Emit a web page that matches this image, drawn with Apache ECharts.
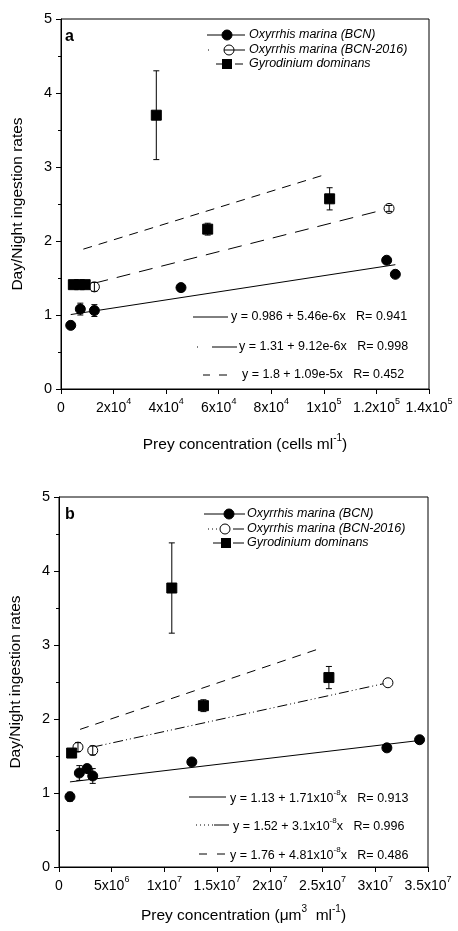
<!DOCTYPE html>
<html>
<head>
<meta charset="utf-8">
<script src="https://cdn.jsdelivr.net/npm/echarts@6/dist/echarts.min.js"></script>
<style>html,body{margin:0;padding:0;background:#fff}#c{width:458px;height:931px}</style>
</head>
<body>
<div id="c"></div>
<script>
// ---------- Panel a (cells ml-1) ----------
const aBCN = [[3700,0.86],[7350,1.08],[12700,1.06],[45650,1.37],[123900,1.74],[127200,1.55]];
const aBCNerr = [0,0.08,0.08,0,0,0];
const aBCN16 = [[12700,1.38],[124800,2.44]];
const aBCN16err = [0.06,0.04];
const aGyro = [[4700,1.41],[7000,1.41],[9200,1.41],[36260,3.70],[55800,2.16],[102200,2.57]];
const aGyroErr = [0,0,0,0.6,0.08,0.15];
const aFitBCN = [[3700,1.006],[127200,1.68]];
const aFitBCN16 = [[12700,1.43],[124800,2.44]];
const aFitGyro = [[8500,1.89],[99800,2.89]];
const aTicks = [['0',''],['2x10','4'],['4x10','4'],['6x10','4'],['8x10','4'],['1x10','5'],['1.2x10','5'],['1.4x10','5']];
const aEq = ['y = 0.986 + 5.46e-6x   R= 0.941','y = 1.31 + 9.12e-6x   R= 0.998','y = 1.8 + 1.09e-5x   R= 0.452'];

// ---------- Panel b (um3 ml-1) ----------
const bBCN = [[1.04e6,0.95],[1.93e6,1.27],[2.66e6,1.33],[3.2e6,1.23],[1.26e7,1.42],[3.11e7,1.61],[3.42e7,1.72]];
const bBCNerr = [0.06,0.1,0.05,0.1,0,0,0];
const bBCN16 = [[1.8e6,1.62],[3.2e6,1.575],[3.12e7,2.49]];
const bBCN16err = [0.06,0.06,0];
const bGyro = [[1.2e6,1.54],[1.07e7,3.77],[1.37e7,2.18],[2.56e7,2.56]];
const bGyroErr = [0,0.61,0.08,0.15];
const bFitBCN = [[1.04e6,1.15],[3.42e7,1.71]];
const bFitBCN16 = [[3.2e6,1.62],[3.12e7,2.49]];
const bFitGyro = [[2.0e6,1.86],[2.49e7,2.96]];
const bTicks = [['0',''],['5x10','6'],['1x10','7'],['1.5x10','7'],['2x10','7'],['2.5x10','7'],['3x10','7'],['3.5x10','7']];
const bEq = [['y = 1.13 + 1.71x10','-8','x   R= 0.913'],['y = 1.52 + 3.1x10','-8','x   R= 0.996'],['y = 1.76 + 4.81x10','-8','x   R= 0.486']];

const legendNames = ['Oxyrrhis marina (BCN)','Oxyrrhis marina (BCN-2016)','Gyrodinium dominans'];
const FONT = 'Liberation Sans, Arial, sans-serif';

const chart = echarts.init(document.getElementById('c'), null, {renderer:'canvas'});

const rich = {
  n:{fontSize:14, fontFamily:FONT, color:'#000', lineHeight:18, verticalAlign:'bottom'},
  s:{fontSize:9, fontFamily:FONT, color:'#000', lineHeight:10, verticalAlign:'top'}
};
const richT = {
  n:{fontSize:15.5, fontFamily:FONT, color:'#000', lineHeight:20, verticalAlign:'bottom'},
  s:{fontSize:10, fontFamily:FONT, color:'#000', lineHeight:10, verticalAlign:'top'}
};

function xAxisDef(gi, max, interval, ticks, nameStr, gap){
  return {
    gridIndex:gi, type:'value', min:0, max:max, interval:interval,
    axisLine:{show:true, lineStyle:{color:'#000', width:1}},
    axisTick:{show:true, inside:false, length:5, lineStyle:{color:'#000'}},
    splitLine:{show:false},
    axisLabel:{margin:8, hideOverlap:false, showMinLabel:true, showMaxLabel:true,
      formatter:function(v){const t=ticks[Math.round(v/interval)]; if(!t) return ''; return t[1]?('{n|'+t[0]+'}{s|'+t[1]+'}'):('{n|'+t[0]+'}');},
      rich:rich},
    name:nameStr, nameLocation:'middle', nameGap:gap,
    nameTextStyle:{rich:richT}
  };
}
function yAxisDef(gi){
  return {
    gridIndex:gi, type:'value', min:0, max:5, interval:1,
    axisLine:{show:true, lineStyle:{color:'#000', width:1}},
    axisTick:{show:true, inside:false, length:5, lineStyle:{color:'#000'}},
    minorTick:{show:true, splitNumber:2, length:3, lineStyle:{color:'#000'}},
    splitLine:{show:false}, minorSplitLine:{show:false},
    axisLabel:{margin:9, fontSize:14.5, fontFamily:FONT, color:'#000'},
    name:'Day/Night ingestion rates', nameLocation:'middle', nameGap:35, nameRotate:90,
    nameTextStyle:{fontSize:15.5, fontFamily:FONT, color:'#000'}
  };
}

function scatter(gi, data, sym, filled){
  return {type:'scatter', xAxisIndex:gi, yAxisIndex:gi, data:data, symbol:sym, symbolSize:10,
    itemStyle:{color: filled?'#000':'#fff', borderColor:'#000', borderWidth:1, opacity:1}, z:3, silent:true};
}
function fit(gi, data, type){
  return {type:'line', xAxisIndex:gi, yAxisIndex:gi, data:data, symbol:'none', silent:true,
    lineStyle:{color:'#000', width:1, type:type}, z:2};
}
function errBars(gi, pts, errs){
  const d = pts.map((p,i)=>[p[0],p[1],errs[i]]).filter(r=>r[2]>0);
  return {type:'custom', xAxisIndex:gi, yAxisIndex:gi, data:d, silent:true, z:4,
    renderItem:function(params, api){
      const x=api.value(0), y=api.value(1), e=api.value(2);
      const top=api.coord([x,y+e]), bot=api.coord([x,y-e]);
      const cw=3;
      return {type:'group', children:[
        {type:'line', shape:{x1:top[0],y1:top[1],x2:bot[0],y2:bot[1]}, style:{stroke:'#000',lineWidth:1}},
        {type:'line', shape:{x1:top[0]-cw,y1:top[1],x2:top[0]+cw,y2:top[1]}, style:{stroke:'#000',lineWidth:1}},
        {type:'line', shape:{x1:bot[0]-cw,y1:bot[1],x2:bot[0]+cw,y2:bot[1]}, style:{stroke:'#000',lineWidth:1}}
      ]};
    }};
}

function seg(x1,y,x2,dash){return {type:'line', shape:{x1:x1,y1:y,x2:x2,y2:y}, style:{stroke:'#000', lineWidth:1, lineDash:dash||null}};}
function txt(x,y,t,size,italic,weight){return {type:'text', x:x, y:y, style:{text:t, font:(italic?'italic ':'')+(weight||'normal')+' '+size+'px '+FONT, fill:'#000', textVerticalAlign:'middle', textAlign:'left'}};}
function circ(x,y,filled){return {type:'circle', shape:{cx:x,cy:y,r:5}, style:{fill:filled?'#000':'#fff', stroke:'#000', lineWidth:1}};}
function sq(x,y){return {type:'rect', shape:{x:x-5,y:y-5,width:10,height:10}, style:{fill:'#000'}};}

const g = [];
// Panel a label + legend
g.push(txt(65,37,'a',16,false,'bold'));
const la=[35,50,64];
g.push(seg(207,la[0],245)); g.push(circ(227,la[0],true)); g.push(txt(249,la[0],legendNames[0],12.5,true));
g.push(seg(208,la[1],209)); g.push(circ(229,la[1],false)); g.push(seg(224,la[1],234)); g.push(seg(234,la[1],245)); g.push(txt(249,la[1],legendNames[1],12.5,true));
g.push(seg(216,la[2],222)); g.push(sq(227,la[2])); g.push(seg(235,la[2],243)); g.push(txt(249,la[2],legendNames[2],12.5,true));
// Panel a equations
const ea=[317,347,375];
g.push(seg(193,ea[0],228)); g.push(txt(231,ea[0],aEq[0],12.5,false));
g.push(seg(197,ea[1],198)); g.push(seg(212,ea[1],237)); g.push(txt(239,ea[1],aEq[1],12.5,false));
g.push(seg(203,ea[2],210)); g.push(seg(219,ea[2],227)); g.push(txt(242,ea[2],aEq[2],12.5,false));

// Panel b label + legend
g.push(txt(65,515,'b',16,false,'bold'));
const lb=[514,529,543];
g.push(seg(204,lb[0],245)); g.push(circ(229,lb[0],true)); g.push(txt(247,lb[0],legendNames[0],12.5,true));
g.push(seg(208,lb[1],218,[1,3])); g.push(circ(225,lb[1],false)); g.push(seg(233,lb[1],244)); g.push(txt(247,lb[1],legendNames[1],12.5,true));
g.push(seg(213,lb[2],221)); g.push(sq(226,lb[2])); g.push(seg(233,lb[2],244)); g.push(txt(247,lb[2],legendNames[2],12.5,true));
// Panel b equations
const eb=[797,825,854];
function eqRich(x,y,parts){return {type:'text', x:x, y:y, style:{text:'{n|'+parts[0]+'}{s|'+parts[1]+'}{n|'+parts[2]+'}', rich:{n:{fontSize:12.5,fontFamily:FONT,fill:'#000',lineHeight:16,verticalAlign:'bottom'},s:{fontSize:8,fontFamily:FONT,fill:'#000',lineHeight:8,verticalAlign:'top'}}, textVerticalAlign:'middle', textAlign:'left'}};}
g.push(seg(189,eb[0],226)); g.push(eqRich(230,eb[0],bEq[0]));
g.push(seg(196,eb[1],213,[1,3])); g.push(seg(214,eb[1],229)); g.push(eqRich(233,eb[1],bEq[1]));
g.push(seg(199,eb[2],207)); g.push(seg(217,eb[2],225)); g.push(eqRich(230,eb[2],bEq[2]));

const option = {
  backgroundColor:'#fff',
  animation:false,
  grid:[
    {left:61, top:19, width:368, height:370, show:true, borderColor:'#000', borderWidth:1, containLabel:false},
    {left:59, top:497, width:369, height:370, show:true, borderColor:'#000', borderWidth:1, containLabel:false}
  ],
  xAxis:[
    xAxisDef(0,1.4e5,2e4,aTicks,'{n|Prey concentration (cells ml}{s|-1}{n|)}',44),
    xAxisDef(1,3.5e7,5e6,bTicks,'{n|Prey concentration (μm}{s|3}{n|  ml}{s|-1}{n|)}',37)
  ],
  yAxis:[yAxisDef(0), yAxisDef(1)],
  series:[
    fit(0,aFitBCN,'solid'), fit(0,aFitBCN16,[14,9]), fit(0,aFitGyro,[9,7]),
    scatter(0,aBCN,'circle',true), scatter(0,aBCN16,'circle',false), scatter(0,aGyro,'rect',true),
    errBars(0,aBCN,aBCNerr), errBars(0,aBCN16,aBCN16err), errBars(0,aGyro,aGyroErr),
    fit(1,bFitBCN,'solid'), fit(1,bFitBCN16,[10,3,1,3,1,3]), fit(1,bFitGyro,[9,7]),
    scatter(1,bBCN,'circle',true), scatter(1,bBCN16,'circle',false), scatter(1,bGyro,'rect',true),
    errBars(1,bBCN,bBCNerr), errBars(1,bBCN16,bBCN16err), errBars(1,bGyro,bGyroErr)
  ],
  graphic:{elements:g}
};
chart.setOption(option);
</script>
</body>
</html>
